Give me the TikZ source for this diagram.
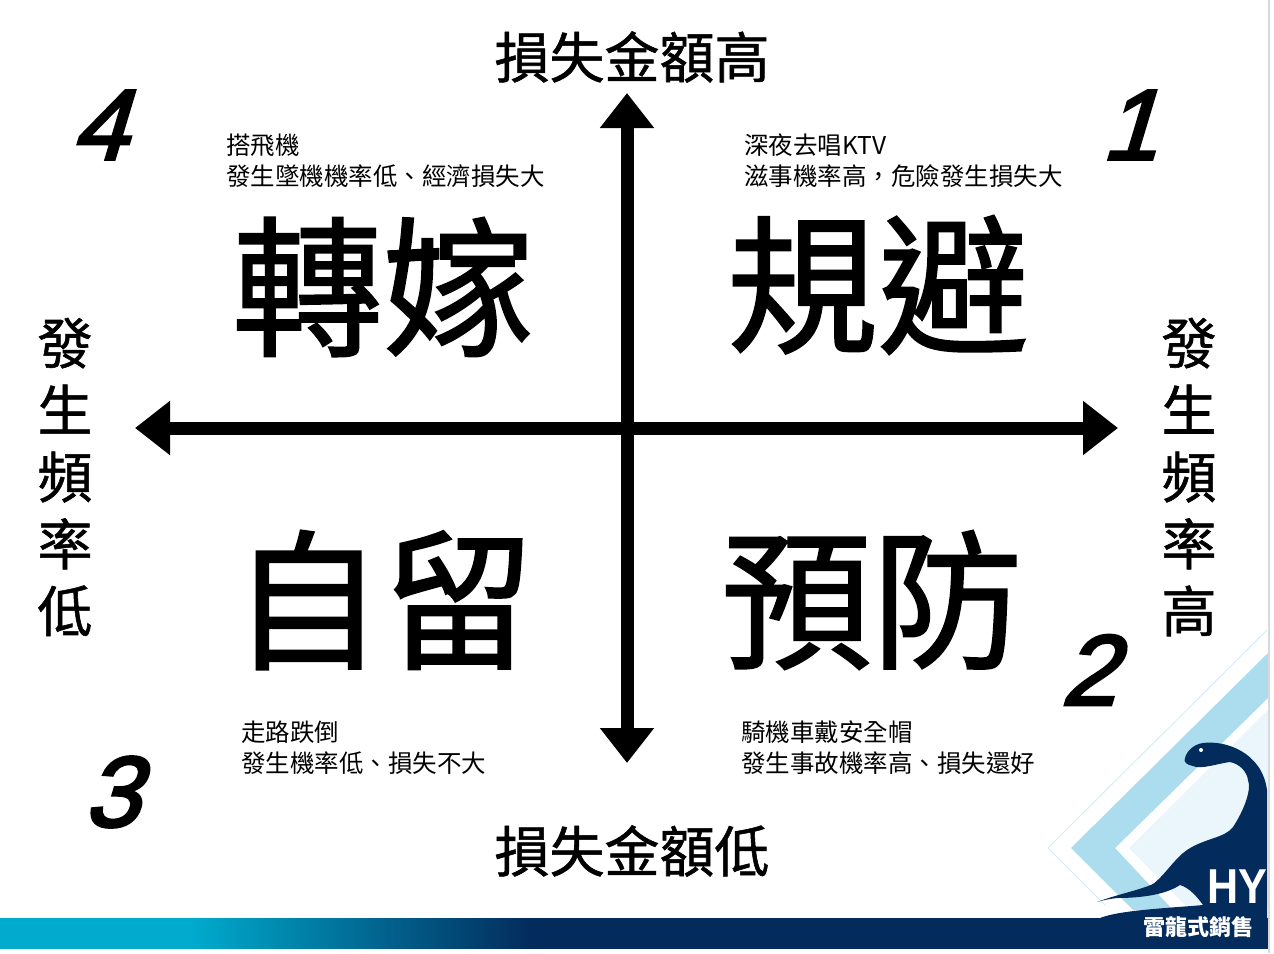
\documentclass[tikz,border=0pt]{standalone}
\usepackage{fontspec}
\setmainfont{Noto Sans CJK TC}
\newfontfamily\numfont[FakeSlant=0.3,FakeBold=3]{Liberation Sans}
\newfontfamily\hyfont{Liberation Sans}
\newfontfamily\heavyfont[FakeBold=1.2]{Noto Sans CJK TC}
\newfontfamily\headfont[FakeBold=1]{Noto Sans CJK TC}
\usetikzlibrary{%
  positioning
 ,arrows.meta
}
\definecolor{navy}{HTML}{032B5C}
\definecolor{cyanbar}{HTML}{00ABCD}
\definecolor{band}{HTML}{ABDDEF}
\definecolor{pale}{HTML}{EAF6FC}
\pgfdeclarehorizontalshading{barfade}{100bp}{color(0bp)=(cyanbar); color(32.5bp)=(cyanbar); color(46bp)=(navy); color(100bp)=(navy)}
\tikzstyle{quad}=[x=1pt,y=-1pt,inner sep=0pt]
\tikzstyle{axis}=[line width=13pt,{Triangle[width=52pt,length=35pt]}-{Triangle[width=52pt,length=35pt]}]
\tikzstyle{big}=[font=\fontsize{151}{151}\heavyfont]
\tikzstyle{head}=[font=\fontsize{55}{67}\headfont,align=center]
\tikzstyle{note}=[font=\fontsize{24.5}{31}\selectfont,align=left,anchor=west]
\tikzstyle{num}=[font=\fontsize{100}{100}\numfont]

\begin{document}
\begin{tikzpicture}[quad]
      \useasboundingbox (0,0) rectangle (1274,953);
      \fill[white] (0,0) rectangle (1274,953);
      % corner logo
      \draw[band!60,line width=0.8pt] (1267,630) -- (1048,848) -- (1105,905);
      \fill[band] (1268,653) -- (1071,848) -- (1133,910) -- (1173,910) -- (1115,848) -- (1268,698) -- cycle;
      \fill[pale] (1268,710) -- (1129,848) -- (1185,905) -- (1268,905) -- cycle;
      \shade[shading=barfade] (0,918) rectangle (1268,948);
      \fill[navy] (1097,902) .. controls (1115,895) and (1140,890) .. (1153,884)
        .. controls (1165,875) and (1175,858) .. (1187,850)
        .. controls (1205,838) and (1225,838) .. (1233,827)
        .. controls (1243,812) and (1252,790) .. (1248,780)
        .. controls (1247,772) and (1240,764) .. (1230,762)
        .. controls (1220,763) and (1200,770) .. (1193,766)
        .. controls (1187,765) and (1183,762) .. (1185,758)
        .. controls (1187,750) and (1195,744) .. (1203,743)
        .. controls (1225,740) and (1262,752) .. (1267,790)
        -- (1267,947) -- (1100,947) -- (1100,918)
        .. controls (1120,910) and (1170,908) .. (1203,905)
        .. controls (1198,898) and (1190,888) .. (1180,885)
        .. controls (1165,895) and (1140,898) .. (1117,898)
        .. controls (1110,899) and (1103,900) .. cycle;
      \fill[white] (1201,750) circle (2pt);
      \draw[gray!30,line width=2pt] (1268.5,0) -- (1268.5,953);
      \node[font=\fontsize{49}{49}\hyfont\bfseries,text=white,xscale=0.88] (logo_hy) at (1237,887) {HY};
      \node[font=\fontsize{22}{22}\selectfont\bfseries,text=white] (logo_name) at (1198,927) {雷龍式銷售};
      % axes
      \coordinate (a_n) at (627,93);
      \coordinate (a_s) at (627,763);
      \coordinate (a_w) at (135,428);
      \coordinate (a_e) at (1118,428);
      \draw[axis] (a_s) -- (a_n);
      \draw[axis] (a_w) -- (a_e);
      % axis labels
      \node[head] (l_n) at (632,57) {損失金額高};
      \node[head] (l_s) at (632,851) {損失金額低};
      \node[head] (l_w) at (65,477) {發\\生\\頻\\率\\低};
      \node[head] (l_e) at (1189,477) {發\\生\\頻\\率\\高};
      % quadrants
      \node[big] (q_1) at (878,285) {規避};
      \node[big] (q_2) at (872,600) {預防};
      \node[big] (q_3) at (383,600) {自留};
      \node[big] (q_4) at (383,287) {轉嫁};
      \node[num] (n_1) at (1129,125) {1};
      \node[num] (n_2) at (1088,670) {2};
      \node[num] (n_3) at (111,792) {3};
      \node[num] (n_4) at (99,125) {4};
      \node[note] (t_1) at (744,161) {深夜去唱KTV\\滋事機率高，危險發生損失大};
      \node[note] (t_2) at (741,748) {騎機車戴安全帽\\發生事故機率高、損失還好};
      \node[note] (t_3) at (241,748) {走路跌倒\\發生機率低、損失不大};
      \node[note] (t_4) at (226,161) {搭飛機\\發生墜機機率低、經濟損失大};
    \end{tikzpicture}
\end{document}
